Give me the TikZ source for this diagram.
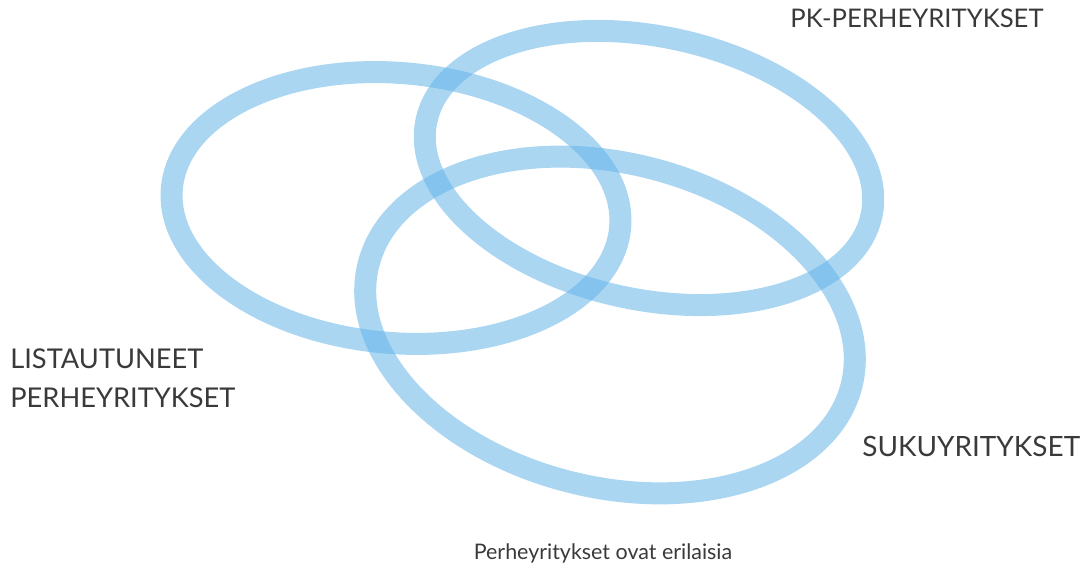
\documentclass[tikz,border=0pt]{standalone}
\usepackage{fontspec}
\setmainfont{Lato}
\usepackage{tikz}
\usetikzlibrary{positioning}

\definecolor{ringblue}{RGB}{100,180,232}
\definecolor{textgray}{RGB}{58,58,58}

\begin{document}
\begin{tikzpicture}[ring/.style={draw=ringblue,line width=0.44cm,draw opacity=0.55},
  lbl/.style={draw=none,inner sep=0pt,text=textgray,font=\fontsize{15.5}{22}\selectfont}]

\useasboundingbox (0,0) rectangle (21.84,11.5);

\path[shape=coordinate]
(7.92,7.34) coordinate(c1) (12.98,8.14) coordinate(c2)
(12.2,5.0) coordinate(c3);

\draw[ring] (c1) ellipse[x radius=4.5cm,y radius=2.7cm,rotate=-5];
\draw[ring] (c2) ellipse[x radius=4.55cm,y radius=2.63cm,rotate=-12];
\draw[ring] (c3) ellipse[x radius=4.98cm,y radius=3.24cm,rotate=-14];

\node[lbl,anchor=west,font=\fontsize{14.6}{22}\selectfont] (t1) at (15.8,11.14) {PK-PERHEYRITYKSET};
\node[lbl,anchor=west,align=left] (t2) at (0.2,3.94) {LISTAUTUNEET\\PERHEYRITYKSET};
\node[lbl,anchor=west,font=\fontsize{15.9}{22}\selectfont] (t3) at (17.24,2.56) {SUKUYRITYKSET};
\node[lbl,font=\fontsize{12.2}{16}\selectfont] (t4) at (12.06,0.44) {Perheyritykset ovat erilaisia};

\end{tikzpicture}
\end{document}
